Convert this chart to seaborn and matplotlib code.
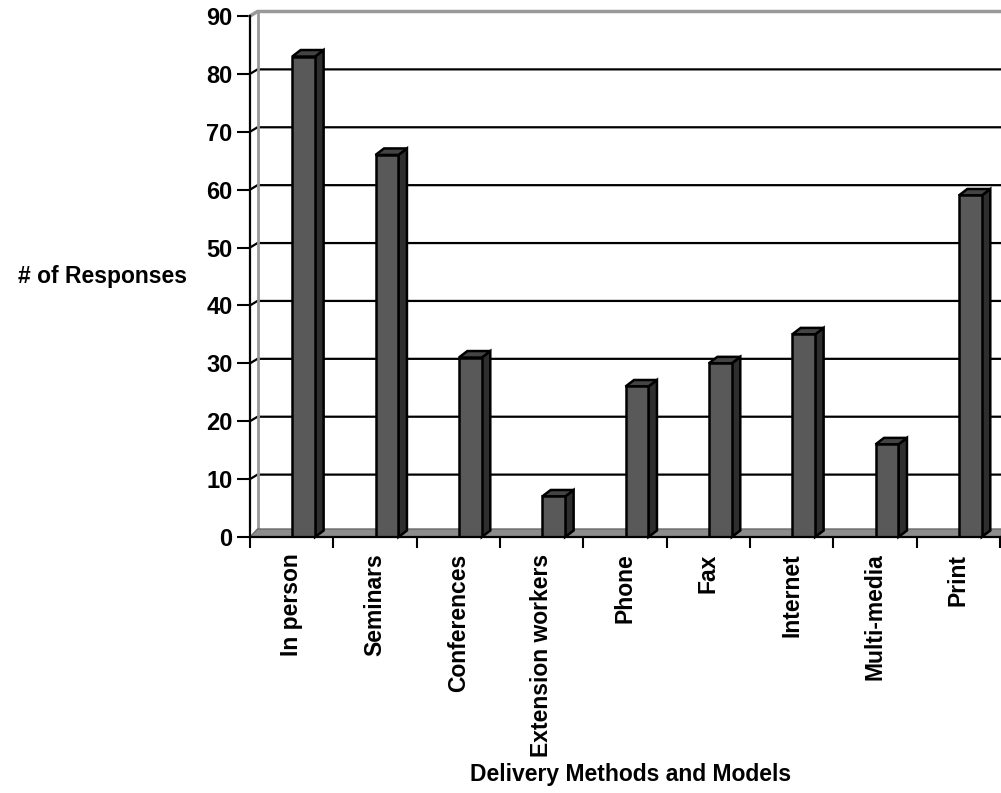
import numpy as np
import pandas as pd
import matplotlib
matplotlib.use("Agg")
import matplotlib.pyplot as plt
from matplotlib.patches import Polygon, Rectangle
from matplotlib.ticker import FixedLocator, NullFormatter
import seaborn as sns

categories = ["In person", "Seminars", "Conferences", "Extension workers",
              "Phone", "Fax", "Internet", "Multi-media", "Print"]
responses = [83, 66, 31, 7, 26, 30, 35, 16, 59]
y_ticks = [0, 10, 20, 30, 40, 50, 60, 70, 80, 90]

sns.set_style("white")
plt.rcParams["font.family"] = ["Liberation Sans", "DejaVu Sans"]
plt.rcParams["font.weight"] = "bold"
plt.rcParams["text.color"] = "black"
plt.rcParams["axes.labelcolor"] = "black"
plt.rcParams["xtick.color"] = "black"
plt.rcParams["ytick.color"] = "black"

DPI = 100
W, H = 1001, 793
fig = plt.figure(figsize=(W / DPI, H / DPI), dpi=DPI)

# front plane of the plot area, in pixels
L, R, B, T = 250, 1000, 537, 16
ax = fig.add_axes([L / W, (H - B) / H, (R - L) / W, (B - T) / H])

df = pd.DataFrame({"method": categories, "count": responses})
FRONT = "#595959"
SIDE = "#2e2e2e"
TOP = "#444444"
sns.barplot(data=df, x="method", y="count", color=FRONT, width=0.275,
            saturation=1, edgecolor="black", linewidth=1.8, ax=ax, zorder=5)

ax.set_xlim(-0.5, len(categories) - 0.5)
ax.set_ylim(0, 90)

# pixel -> data unit conversions
xpp = len(categories) / (R - L)
ypp = 90 / (B - T)

# columns sit slightly right of the category centre (depth projection)
shift = 12 * xpp
bars = [p for p in ax.patches if isinstance(p, Rectangle)]
for p in bars:
    p.set_x(p.get_x() + shift)

# depth of the columns, walls and floor, in pixels
bdx, bdy = 8.5 * xpp, 6.5 * ypp
wdx, wdy = 7.5 * xpp, 4.5 * ypp
fdx, fdy = 7.5 * xpp, 8 * ypp

x0, x1 = -0.5, len(categories) - 0.5
xr = x1 + 1.0  # back wall runs off the right edge

# back wall gridlines with the short diagonal on the side wall
for v in y_ticks[1:]:
    ax.plot([x0, x0 + wdx, xr], [v, v + wdy, v + wdy], color="black",
            lw=1.6, zorder=1, clip_on=False, solid_capstyle="butt")

# back wall outline (grey)
ax.plot([x0, x0 + wdx, xr], [90, 90 + wdy, 90 + wdy], color="#999999",
        lw=2.5, zorder=1, clip_on=False)
ax.plot([x0 + wdx, x0 + wdx], [fdy, 90 + wdy], color="#999999",
        lw=2.0, zorder=1, clip_on=False)

# floor slab
floor = Polygon([[x0, 0], [x1, 0], [x1 + fdx, fdy], [x0 + fdx, fdy]],
                closed=True, facecolor="#8c8c8c", edgecolor="#6a6a6a",
                lw=1.0, zorder=2, clip_on=False)
ax.add_patch(floor)

# side and top faces of each column
for p in bars:
    xa = p.get_x()
    xb = xa + p.get_width()
    h = p.get_height()
    side = Polygon([[xb, 0], [xb + bdx, bdy], [xb + bdx, h + bdy], [xb, h]],
                   closed=True, facecolor=SIDE, edgecolor="black", lw=1.8,
                   zorder=4, clip_on=False, joinstyle="miter")
    top = Polygon([[xa, h], [xa + bdx, h + bdy], [xb + bdx, h + bdy], [xb, h]],
                  closed=True, facecolor=TOP, edgecolor="black", lw=1.8,
                  zorder=4, clip_on=False, joinstyle="miter")
    ax.add_patch(side)
    ax.add_patch(top)

# axes
for s in ["top", "right"]:
    ax.spines[s].set_visible(False)
for s in ["left", "bottom"]:
    ax.spines[s].set_visible(True)
    ax.spines[s].set_color("black")
    ax.spines[s].set_linewidth(1.6)
    ax.spines[s].set_zorder(6)

ax.set_yticks(y_ticks)
ax.set_yticklabels([str(v) for v in y_ticks])
ax.tick_params(axis="y", left=True, length=9.5, width=1.5, pad=3,
               labelsize=17, color="black", labelcolor="black")

ax.set_xticks(range(len(categories)))
ax.set_xticklabels(categories, rotation=90, fontsize=16.5, fontweight="bold",
                   color="black")
ax.tick_params(axis="x", which="major", length=0, pad=12)
ax.xaxis.set_minor_locator(FixedLocator(np.arange(-0.5, len(categories), 1.0)))
ax.xaxis.set_minor_formatter(NullFormatter())
ax.tick_params(axis="x", which="minor", bottom=True, length=8, width=1.5,
               color="black")

ax.set_xlabel("Delivery Methods and Models", fontsize=16.5, fontweight="bold",
              color="black")
ax.xaxis.set_label_coords((630.5 - L) / (R - L), (B - 774) / (B - T))
ax.xaxis.label.set_va("center")
ax.set_ylabel("# of Responses", fontsize=16.5, fontweight="bold", rotation=0,
              ha="center", va="center", color="black")
ax.yaxis.set_label_coords((102 - L) / (R - L), (B - 277) / (B - T))

fig.savefig("out.png", dpi=DPI, facecolor="white")
